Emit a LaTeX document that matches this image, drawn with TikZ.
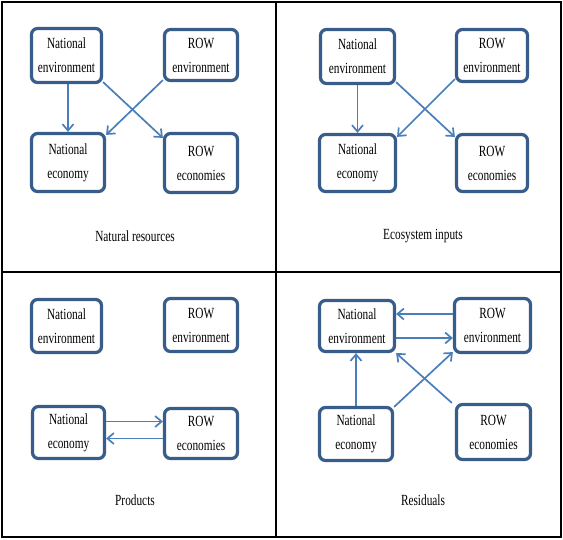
\documentclass[tikz,border=0pt]{standalone}
\usepackage{fontspec}
\newfontfamily\nf[FakeStretch=0.73]{Liberation Serif}
\usetikzlibrary{arrows.meta}
\definecolor{boxc}{HTML}{385D8A}
\definecolor{arrc}{HTML}{4A7EBB}
\tikzset{
  box/.style={draw=boxc, line width=3.2pt, rounded corners=6pt, fill=white, align=center,
    inner sep=0pt, font=\nf\fontsize{15.5}{24}\selectfont},
  arr/.style={draw=arrc, line width=1.7pt, -{Straight Barb[length=6.5pt,width=11pt]}},
  captxt/.style={font=\nf\fontsize{15.5}{17}\selectfont, inner sep=0pt},
  frameline/.style={draw=black, line width=2.2pt}
}
\begin{document}
\begin{tikzpicture}[x=1pt,y=-1pt]
\useasboundingbox (0,0) rectangle (563,539);
\draw[frameline] (2,2) rectangle (561,537);
\draw[frameline] (276,2) -- (276,537);
\draw[frameline] (2,272) -- (561,272);
% Panel 1
\node[box, minimum width=70pt, minimum height=54pt] (ne1) at (66.5,55.5) {National\\environment};
\node[box, minimum width=73pt, minimum height=51pt] (re1) at (201,55) {ROW\\environment};
\node[box, minimum width=73pt, minimum height=58pt] (nc1) at (68,162.5) {National\\economy};
\node[box, minimum width=73pt, minimum height=59pt] (rc1) at (201,163) {ROW\\economies};
\node[captxt] (c1) at (135,236) {Natural resources};
\draw[arr] ([xshift=1.5pt]ne1.south) -- ([xshift=1.5pt]ne1.south |- nc1.north);
\draw[arr] ([yshift=2pt]re1.south west) -- ([yshift=-3pt]nc1.north east);
\draw[arr] ([yshift=2pt]ne1.south east) -- ([yshift=-6pt]rc1.north west);
% Panel 2
\node[box, minimum width=74pt, minimum height=54pt] (ne2) at (357.5,56.5) {National\\environment};
\node[box, minimum width=71pt, minimum height=52pt] (re2) at (492,55.5) {ROW\\environment};
\node[box, minimum width=76pt, minimum height=57pt] (nc2) at (357.5,163) {National\\economy};
\node[box, minimum width=71pt, minimum height=57pt] (rc2) at (492,163) {ROW\\economies};
\node[captxt] (c2) at (423,236) {Ecosystem inputs};
\draw[arr] (ne2.south) -- (ne2.south |- nc2.north);
\draw[arr] ([yshift=4pt]re2.south west) -- ([yshift=-4pt]nc2.north east);
\draw[arr] ([yshift=3pt]ne2.south east) -- ([yshift=-4pt]rc2.north west);
% Panel 3
\node[box, minimum width=70pt, minimum height=53pt] (ne3) at (66.5,326) {National\\environment};
\node[box, minimum width=73pt, minimum height=53pt] (re3) at (201,325) {ROW\\environment};
\node[box, minimum width=72pt, minimum height=52pt] (nc3) at (68.5,432.5) {National\\economy};
\node[box, minimum width=73pt, minimum height=50pt] (rc3) at (201,433.5) {ROW\\economies};
\node[captxt] (c3) at (135,500) {Products};
\draw[arr] ([yshift=11pt]nc3.east) -- ([yshift=11pt]nc3.east -| rc3.west);
\draw[arr] ([yshift=-5pt]rc3.west) -- ([yshift=-5pt]rc3.west -| nc3.east);
% Panel 4
\node[box, minimum width=75pt, minimum height=51pt] (ne4) at (357,326) {National\\environment};
\node[box, minimum width=76pt, minimum height=54pt] (re4) at (492.5,325.5) {ROW\\environment};
\node[box, minimum width=73pt, minimum height=53pt] (nc4) at (356,434) {National\\economy};
\node[box, minimum width=74pt, minimum height=55pt] (rc4) at (493.5,432) {ROW\\economies};
\node[captxt] (c4) at (423,500) {Residuals};
\draw[arr] ([yshift=11.5pt]re4.west) -- ([yshift=11.5pt]re4.west -| ne4.east);
\draw[arr] ([yshift=-12pt]ne4.east) -- ([yshift=-12pt]ne4.east -| re4.west);
\draw[arr] (nc4.north) -- (nc4.north |- ne4.south);
\draw[arr] ([yshift=-1pt]nc4.north east) -- ([yshift=2pt]re4.south west);
\draw[arr] ([xshift=-3pt]rc4.north west) -- (ne4.south east);
\end{tikzpicture}
\end{document}
